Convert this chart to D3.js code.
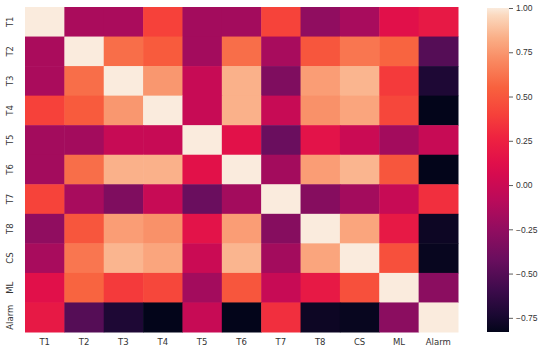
<!DOCTYPE html>
<html>
<head>
<meta charset="utf-8">
<script src="https://cdn.jsdelivr.net/npm/d3@7"></script>
<style>
  html, body { margin: 0; padding: 0; background: #fff; }
  svg { display: block; font-family: "DejaVu Sans", sans-serif; }
  .lbl { fill: #333; font-size: 8.5px; }
</style>
</head>
<body>
<div id="chart"></div>
<script>
// variable names (rows and columns)
const labels = ['T1', 'T2', 'T3', 'T4', 'T5', 'T6', 'T7', 'T8', 'CS', 'ML', 'Alarm'];

// correlation matrix, row by row
const corrT1    = [ 1.00, -0.15, -0.15,  0.40, -0.18, -0.18,  0.41, -0.26, -0.16,  0.13,  0.20];
const corrT2    = [-0.15,  1.00,  0.60,  0.52, -0.18,  0.60, -0.16,  0.50,  0.63,  0.56, -0.50];
const corrT3    = [-0.15,  0.60,  1.00,  0.75, -0.02,  0.84, -0.33,  0.77,  0.85,  0.37, -0.72];
const corrT4    = [ 0.40,  0.52,  0.75,  1.00, -0.02,  0.84, -0.02,  0.73,  0.80,  0.43, -0.83];
const corrT5    = [-0.18, -0.18, -0.02, -0.02,  1.00,  0.14, -0.42,  0.15,  0.00, -0.18, -0.02];
const corrT6    = [-0.18,  0.60,  0.84,  0.84,  0.14,  1.00, -0.18,  0.77,  0.85,  0.50, -0.83];
const corrT7    = [ 0.41, -0.16, -0.33, -0.02, -0.42, -0.18,  1.00, -0.30, -0.18, -0.02,  0.32];
const corrT8    = [-0.26,  0.50,  0.77,  0.73,  0.15,  0.77, -0.30,  1.00,  0.80,  0.20, -0.79];
const corrCS    = [-0.16,  0.63,  0.85,  0.80,  0.00,  0.85, -0.18,  0.80,  1.00,  0.47, -0.81];
const corrML    = [ 0.13,  0.56,  0.37,  0.43, -0.18,  0.50, -0.02,  0.20,  0.47,  1.00, -0.28];
const corrAlarm = [ 0.20, -0.50, -0.72, -0.83, -0.02, -0.83,  0.32, -0.79, -0.81, -0.28,  1.00];

const matrix = [corrT1, corrT2, corrT3, corrT4, corrT5, corrT6, corrT7, corrT8, corrCS, corrML, corrAlarm];

// colorbar ticks
const barTicks = [1.00, 0.75, 0.50, 0.25, 0.00, -0.25, -0.50, -0.75];

// "rocket"-like colour map, sampled from the picture's colorbar (position 0..1)
const rocketPos = [0, 0.052, 0.131, 0.224, 0.317, 0.407, 0.486, 0.525, 0.601, 0.672, 0.754, 0.836, 0.907, 0.978, 1];
const rocketStops = ['#03051a', '#1a0832', '#3e0b4c', '#6a0e5e', '#920d60', '#ba0b5a', '#d60b4f', '#e1104a',
  '#ee2340', '#f6413a', '#f8613e', '#f98860', '#faae86', '#fbd9bf', '#faebdd'];
const rocketT = d3.scaleLinear().domain(rocketPos).range(rocketStops).interpolate(d3.interpolateRgb);

const width = 550, height = 350;
const margin = { top: 7, left: 25 };
const mapW = 433, mapH = 325;

const cells = matrix.flatMap((row, i) => row.map((v, j) => ({ row: labels[i], col: labels[j], v })));
const vExtent = d3.extent(cells, (d) => d.v);

const color = d3.scaleSequential((t) => rocketT(t)).domain(vExtent);

const svg = d3.select('#chart').append('svg').attr('width', width).attr('height', height);

const x = d3.scaleBand().domain(labels).range([margin.left, margin.left + mapW]);
const y = d3.scaleBand().domain(labels).range([margin.top, margin.top + mapH]);

svg.append('g').selectAll('rect')
  .data(cells)
  .join('rect')
  .attr('x', (d) => x(d.col))
  .attr('y', (d) => y(d.row))
  .attr('width', x.bandwidth() + 0.5)
  .attr('height', y.bandwidth() + 0.5)
  .attr('fill', (d) => color(d.v));

// x labels
svg.append('g').selectAll('text')
  .data(labels)
  .join('text')
  .attr('class', 'lbl')
  .attr('x', (d) => x(d) + x.bandwidth() / 2)
  .attr('y', margin.top + mapH + 13)
  .attr('text-anchor', 'middle')
  .text((d) => d);

// y labels, rotated
svg.append('g').selectAll('text')
  .data(labels)
  .join('text')
  .attr('class', 'lbl')
  .attr('transform', (d) => `translate(13,${y(d) + y.bandwidth() / 2}) rotate(-90)`)
  .attr('text-anchor', 'middle')
  .text((d) => d);

// colorbar
const barX = 487, barW = 22, barTop = 8, barBottom = 332;
const cy = d3.scaleLinear().domain(vExtent).range([barBottom, barTop]);

const defs = svg.append('defs');
const grad = defs.append('linearGradient')
  .attr('id', 'cbar').attr('x1', 0).attr('y1', 1).attr('x2', 0).attr('y2', 0);
rocketPos.forEach((t, i) => {
  grad.append('stop').attr('offset', t).attr('stop-color', rocketStops[i]);
});

svg.append('rect')
  .attr('x', barX).attr('y', barTop)
  .attr('width', barW).attr('height', barBottom - barTop)
  .attr('fill', 'url(#cbar)');

const barAxis = svg.append('g')
  .attr('transform', `translate(${barX + barW},0)`)
  .call(d3.axisRight(cy).tickValues(barTicks).tickFormat((d) => d3.format('.2f')(d).replace('-', '\u2212')).tickSize(4).tickPadding(3));
barAxis.select('.domain').remove();
barAxis.selectAll('line').attr('stroke', '#333').attr('stroke-width', 0.8);
barAxis.selectAll('text').attr('class', 'lbl').attr('font-family', null).attr('font-size', null);
</script>
</body>
</html>
